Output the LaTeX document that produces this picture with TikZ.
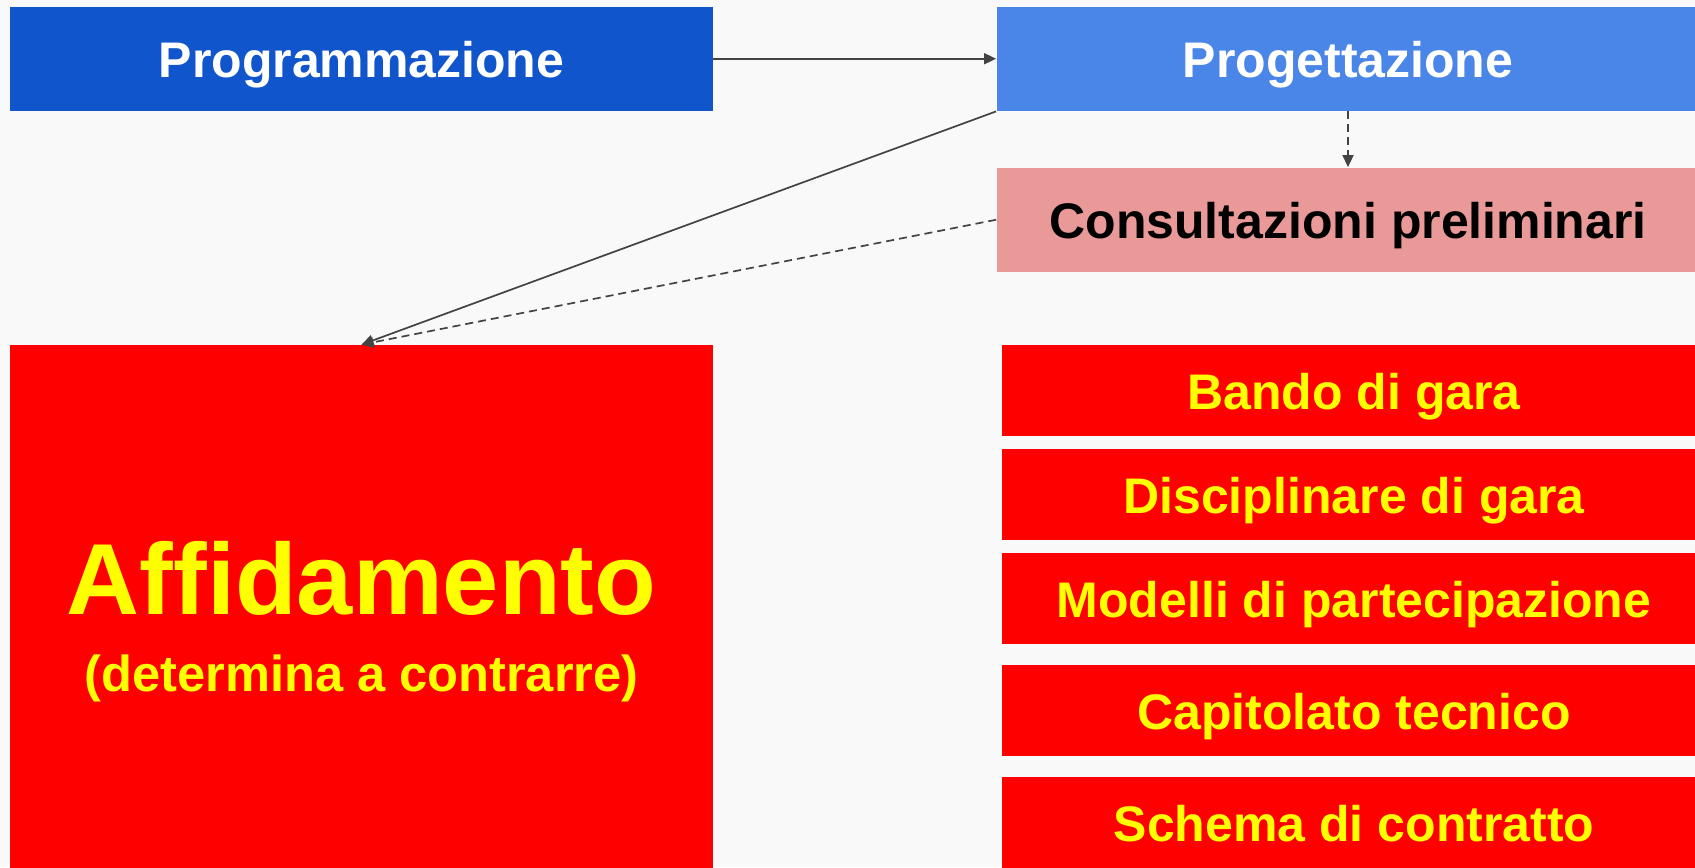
\documentclass[tikz,border=0pt]{standalone}
\usepackage{fontspec}
\setmainfont{Liberation Sans}
\usetikzlibrary{arrows.meta}

\definecolor{progblue}{HTML}{1155CC}
\definecolor{projblue}{HTML}{4A86E8}
\definecolor{conspink}{HTML}{EA9999}
\definecolor{docred}{HTML}{FF0000}
\definecolor{docyellow}{HTML}{FFFF00}
\definecolor{linegray}{HTML}{434343}
\definecolor{bggray}{HTML}{F9F9F9}

\tikzset{
  phase/.style={rectangle, inner sep=0pt, text=white,
    font=\fontsize{25}{30}\selectfont\bfseries,
    text height=19pt, text depth=0pt,
    minimum width=351.5pt, minimum height=52.25pt},
  doc/.style={phase, fill=docred, text=docyellow,
    minimum width=352pt, minimum height=45.5pt},
  link/.style={draw=linegray, line width=0.85pt,
    -{Triangle[length=6pt,width=5.5pt]}},
  dash link/.style={link, dash pattern=on 4pt off 2.5pt}
}

\begin{document}
\begin{tikzpicture}[x=0.5pt,y=-0.5pt]
\clip (0,0) rectangle (1695,867);
\fill[bggray] (0,0) rectangle (1695,867);

\node[phase, fill=progblue] (prog) at (361.5,58.75) {Programmazione};
\node[phase, fill=projblue] (proj) at (1348,58.75) {Progettazione};
\node[phase, fill=conspink, text=black] (cons) at (1348,219.75) {Consultazioni preliminari};

\node[phase, fill=docred, minimum height=262.5pt] (aff) at (361.5,607.5) {};
\node[font=\fontsize{50.5}{60}\selectfont\bfseries, text=docyellow, anchor=base] (afftitle) at (361.5,614) {Affidamento};
\node[font=\fontsize{25.3}{30}\selectfont\bfseries, text=docyellow, anchor=base] (affsub) at (361.5,691) {(determina a contrarre)};

\node[doc] (bando) at (1354,390.75) {Bando di gara};
\node[doc] (disc) at (1354,494.75) {Disciplinare di gara};
\node[doc] (mod) at (1354,598.5) {Modelli di partecipazione};
\node[doc] (cap) at (1354,710.75) {Capitolato tecnico};
\node[doc] (schema) at (1354,822.5) {Schema di contratto};

\draw[link] (prog) -- (proj);
\draw[dash link] (proj) -- (cons);
\draw[link] (proj.south west) -- (aff.north);
\draw[dash link] (cons.west) -- (aff.north);
\end{tikzpicture}
\end{document}
